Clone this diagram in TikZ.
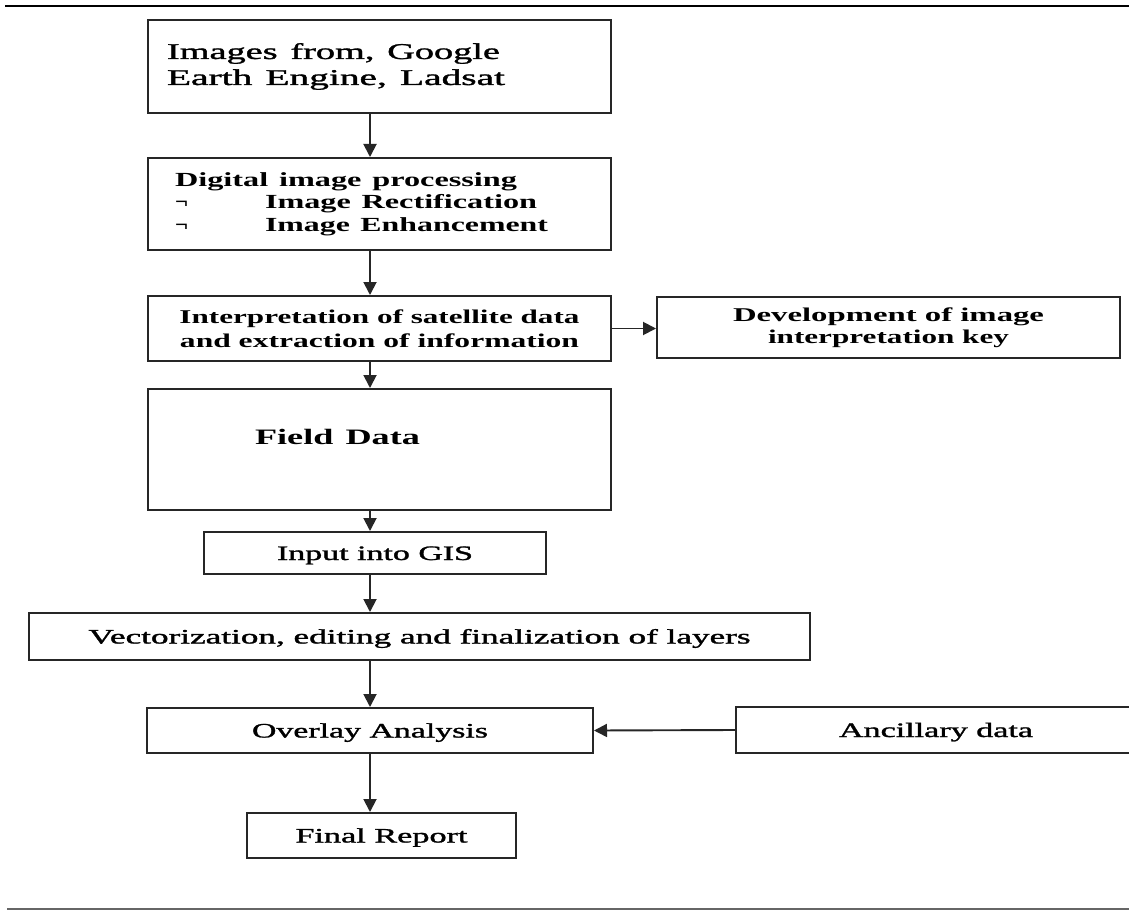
\documentclass[tikz,border=0pt]{standalone}
\usepackage{fontspec}
\setmainfont{Liberation Serif}
\newfontfamily\medserif{Liberation Serif}[FakeBold=1.2]
\usetikzlibrary{arrows.meta}
\newcommand{\hw}[2]{\resizebox{#1pt}{\height}{#2}}
\begin{document}
\begin{tikzpicture}[x=1pt,y=-1pt,
  box/.style={draw=black!85, line width=2pt, inner sep=0pt, fill=white},
  one/.style={text height=14pt, text depth=0pt, font=\fontsize{20.5}{24}\medserif},
  arr/.style={draw=black!85, line width=1.9pt, -{Triangle[length=13pt,width=13pt]}},
  rule/.style={line width=2.5pt, draw=black},
  brule/.style={line width=1.5pt, draw=black!60},
]
\useasboundingbox (0,0) rectangle (1129,912);
\clip (0,0) rectangle (1129,912);
\fill[white] (0,0) rectangle (1129,912);

% rules
\coordinate (tl) at (5,6);
\coordinate (tr) at (1129,6);
\coordinate (bl) at (7,909);
\coordinate (br) at (1129,909);
\draw[rule] (tl) -- (tr);
\draw[brule] (bl) -- (br);

% boxes
\node[box, minimum width=463pt, minimum height=93pt, inner xsep=19pt,
      text width=425pt, align=left, font=\fontsize{22.5}{26}\medserif]
  (b1) at (379.5,66.5)
  {\hw{333}{Images from, Google}\\\hw{338}{Earth Engine, Ladsat}};

\node[box, minimum width=463pt, minimum height=92pt, inner xsep=27pt,
      text width=409pt, align=left, font=\fontsize{20}{22.5}\selectfont\bfseries]
  (b2) at (379.5,204)
  {\hw{342}{Digital image processing}\\
   \makebox[90pt][l]{\hw{13}{¬}}\hw{272}{Image Rectification}\\
   \makebox[90pt][l]{\hw{13}{¬}}\hw{283}{Image Enhancement}};

\node[box, minimum width=463pt, minimum height=65pt, align=center,
      font=\fontsize{19.5}{24}\selectfont\bfseries]
  (b3) at (379.5,328.5)
  {\hw{400}{Interpretation of satellite data}\\\hw{399}{and extraction of information}};

\node[box, minimum width=463pt, minimum height=61pt, align=center,
      font=\fontsize{19.5}{22}\selectfont\bfseries]
  (b4) at (888.5,327.5)
  {\hw{311}{Development of image}\\\hw{241}{interpretation key}};

\node[box, minimum width=463pt, minimum height=121pt, inner xsep=107pt,
      text width=249pt, align=left, text height=15pt, text depth=26pt,
      font=\fontsize{22}{26}\selectfont\bfseries]
  (b5) at (379.5,449.5) {\hw{165}{Field Data}};

\node[box, one, minimum width=342pt, minimum height=42pt]
  (b6) at (375,553) {\hw{196}{Input into GIS}};

\node[box, one, minimum width=781pt, minimum height=47pt]
  (b7) at (419.5,636.5) {\hw{662}{Vectorization, editing and finalization of layers}};

\node[box, one, minimum width=446pt, minimum height=45pt]
  (b8) at (370,730.5) {\hw{236}{Overlay Analysis}};

\node[box, one, minimum width=400pt, minimum height=46pt]
  (b9) at (936,730) {\hw{194}{Ancillary data}};

\node[box, one, minimum width=269pt, minimum height=45pt]
  (b10) at (381.5,835.5) {\hw{172}{Final Report}};

% connectors
\coordinate (ax) at (370,0);
\draw[arr] (b1.south -| ax) -- (b2.north -| ax);
\draw[arr] (b2.south -| ax) -- (b3.north -| ax);
\draw[arr] (b3.east) -- (b3.east -| b4.west);
\draw[arr] (b3.south -| ax) -- (b5.north -| ax);
\draw[arr] (b5.south -| ax) -- (b6.north -| ax);
\draw[arr] (b6.south -| ax) -- (b7.north -| ax);
\draw[arr] (b7.south -| ax) -- (b8.north -| ax);
\draw[arr] (b9.west) -- (b8.east);
\draw[arr] (b8.south -| ax) -- (b10.north -| ax);
\end{tikzpicture}
\end{document}
